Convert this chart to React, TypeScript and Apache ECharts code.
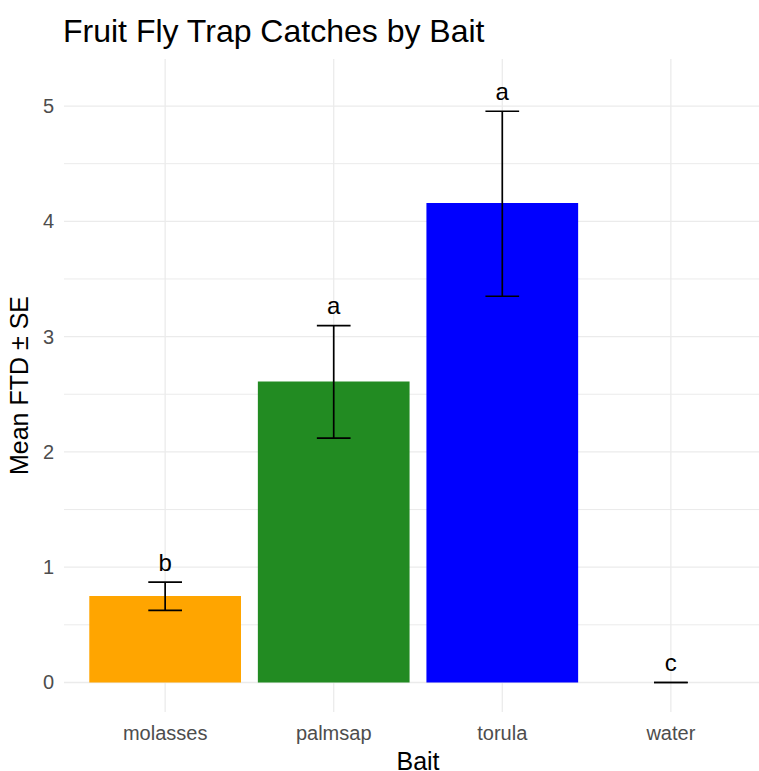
import React, { useEffect, useRef } from "react";
import * as echarts from "echarts";

const categories = ["molasses", "palmsap", "torula", "water"];
const means = [0.75, 2.61, 4.16, 0];
const lowerSE = [0.625, 2.12, 3.35, 0];
const upperSE = [0.87, 3.095, 4.955, 0];
const letters = ["b", "a", "a", "c"];
const barColors = ["#FFA500", "#228B22", "#0000FF", "#808080"];
const yTicks = [0, 1, 2, 3, 4, 5];
const yMinorLines = [0.5, 1.5, 2.5, 3.5, 4.5];
const xPositions = [1, 2, 3, 4];

const Y_MIN = -0.256;
const Y_MAX = 5.408;
const X_MIN = 0.4;
const X_MAX = 4.6;

const FONT = "'Liberation Sans', Arial, sans-serif";

export default function App() {
  const ref = useRef<HTMLDivElement>(null);
  useEffect(() => {
    if (!ref.current) return;
    const chart = echarts.init(ref.current, undefined, { renderer: "svg" });
    const gridColor = "#EBEBEB";
    const gridData: any[] = [
      ...xPositions.map((x) => ["v", x, 1.3]),
      ...yTicks.map((y) => ["h", y, 1.3]),
      ...yMinorLines.map((y) => ["h", y, 1]),
    ];
    chart.setOption({
      animation: false,
      backgroundColor: "#FFFFFF",
      title: {
        text: "Fruit Fly Trap Catches by Bait",
        left: 58,
        top: 10,
        textStyle: { fontFamily: FONT, fontSize: 32, fontWeight: "normal", color: "#000000" },
      },
      grid: { left: 64, right: -13, top: 59, bottom: 59, containLabel: false, outerBoundsMode: "none" },
      xAxis: {
        type: "value",
        min: X_MIN,
        max: X_MAX,
        name: "Bait",
        nameLocation: "middle",
        nameGap: 31,
        nameTextStyle: { fontFamily: FONT, fontSize: 25, lineHeight: 26, color: "#000000" },
        axisLine: { show: false },
        axisTick: { show: false },
        splitLine: { show: false },
        axisLabel: {
          customValues: xPositions,
          formatter: (v: number) => categories[Math.round(v) - 1] ?? "",
          fontFamily: FONT,
          fontSize: 20,
          color: "#4D4D4D",
          margin: 11,
        },
      },
      yAxis: {
        type: "value",
        min: Y_MIN,
        max: Y_MAX,
        name: "Mean FTD ± SE",
        nameLocation: "middle",
        nameRotate: 90,
        nameGap: 33,
        nameTextStyle: { fontFamily: FONT, fontSize: 25, color: "#000000" },
        axisLine: { show: false },
        axisTick: { show: false },
        splitLine: { show: false },
        axisLabel: {
          customValues: yTicks,
          formatter: (v: number) => String(v),
          fontFamily: FONT,
          fontSize: 20,
          color: "#4D4D4D",
          margin: 10,
        },
      },
      series: [
        {
          type: "custom",
          name: "gridlines",
          z: 0,
          silent: true,
          clip: false,
          data: gridData,
          dimensions: ["kind", "pos", "w"],
          encode: { x: -1, y: -1 },
          renderItem: (params: any, api: any) => {
            const d = gridData[params.dataIndex];
            let p0, p1;
            if (d[0] === "v") {
              p0 = api.coord([d[1], Y_MIN]);
              p1 = api.coord([d[1], Y_MAX]);
            } else {
              p0 = api.coord([X_MIN, d[1]]);
              p1 = api.coord([X_MAX, d[1]]);
            }
            return {
              type: "line",
              shape: { x1: p0[0], y1: p0[1], x2: p1[0], y2: p1[1] },
              style: { stroke: gridColor, lineWidth: d[2] },
            };
          },
        },
        {
          type: "custom",
          name: "bars",
          z: 2,
          data: categories.map((c, i) => [i + 1, means[i]]),
          encode: { x: 0, y: 1 },
          renderItem: (params: any, api: any) => {
            const i = api.value(0);
            const v = api.value(1);
            const p0 = api.coord([i - 0.45, v]);
            const p1 = api.coord([i + 0.45, 0]);
            return {
              type: "rect",
              shape: { x: p0[0], y: p0[1], width: p1[0] - p0[0], height: p1[1] - p0[1] },
              style: { fill: barColors[params.dataIndex] },
            };
          },
        },
        {
          type: "custom",
          name: "errors",
          z: 3,
          data: categories.map((c, i) => [i + 1, lowerSE[i], upperSE[i]]),
          encode: { x: 0, y: [1, 2] },
          renderItem: (params: any, api: any) => {
            const i = api.value(0);
            const lo = api.value(1);
            const hi = api.value(2);
            const a = api.coord([i, lo]);
            const b = api.coord([i, hi]);
            const cl = api.coord([i - 0.1, lo]);
            const cr = api.coord([i + 0.1, lo]);
            const tl = api.coord([i - 0.1, hi]);
            const tr = api.coord([i + 0.1, hi]);
            const st = { stroke: "#000000", lineWidth: 1.7 };
            return {
              type: "group",
              children: [
                { type: "line", shape: { x1: a[0], y1: a[1], x2: b[0], y2: b[1] }, style: st },
                { type: "line", shape: { x1: cl[0], y1: cl[1], x2: cr[0], y2: cr[1] }, style: st },
                { type: "line", shape: { x1: tl[0], y1: tl[1], x2: tr[0], y2: tr[1] }, style: st },
              ],
            };
          },
        },
        {
          type: "custom",
          name: "letters",
          z: 4,
          data: categories.map((c, i) => [i + 1, upperSE[i]]),
          encode: { x: 0, y: 1 },
          renderItem: (params: any, api: any) => {
            const p = api.coord([api.value(0), api.value(1)]);
            return {
              type: "text",
              x: p[0],
              y: p[1] - 20,
              style: {
                text: letters[params.dataIndex],
                font: "24px 'Liberation Sans', Arial, sans-serif",
                fontFamily: FONT,
                fontSize: 24,
                fill: "#000000",
                align: "center",
                verticalAlign: "middle",
              },
            };
          },
        },
      ],
    });
    return () => chart.dispose();
  }, []);
  return <div ref={ref} style={{ width: 759, height: 771, position: "absolute", left: 0, top: 0 }} />;
}
